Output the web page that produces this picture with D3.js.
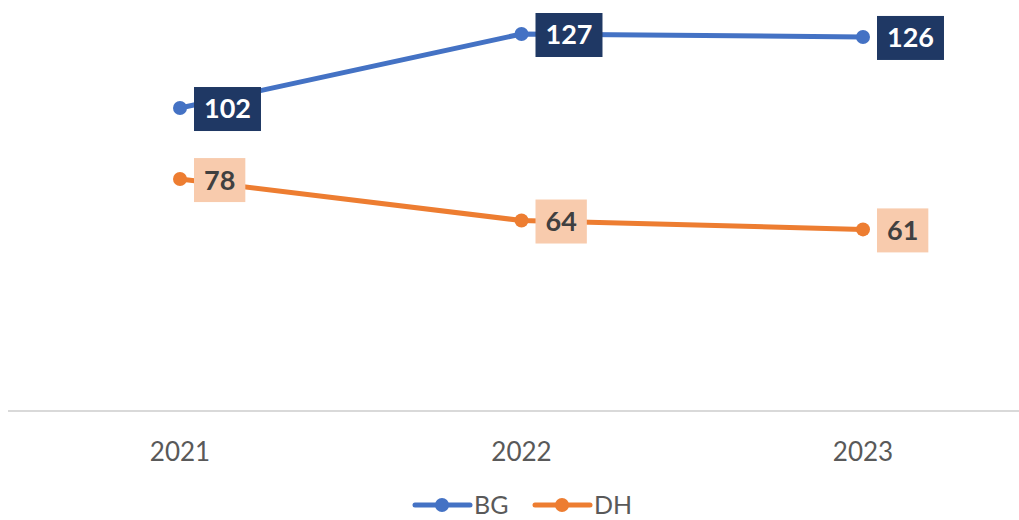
<!DOCTYPE html>
<html>
<head>
<meta charset="utf-8">
<script src="https://cdn.jsdelivr.net/npm/d3@7"></script>
<style>
  body { margin: 0; background: #fff; }
  svg { display: block; font-family: "Lato", "DejaVu Sans", sans-serif; }
</style>
</head>
<body>
<div id="chart"></div>
<script>
const years = ["2021", "2022", "2023"];
const bgValues = [102, 127, 126];
const dhValues = [78, 64, 61];
const seriesNames = ["BG", "DH"];

const width = 1019, height = 520;

const svg = d3.select("#chart").append("svg")
    .attr("width", width)
    .attr("height", height);

const x = d3.scalePoint().domain(years).range([180, 863]);
const y = d3.scaleLinear().domain([0, 127]).range([410, 34]);

// baseline
svg.append("line")
    .attr("x1", 8).attr("x2", width)
    .attr("y1", y(0) + 1).attr("y2", y(0) + 1)
    .attr("stroke", "#d9d9d9").attr("stroke-width", 2);

// x tick labels
svg.selectAll(".tick-label").data(years).enter().append("text")
    .attr("class", "tick-label")
    .attr("x", d => x(d))
    .attr("y", 461)
    .attr("text-anchor", "middle")
    .attr("font-size", 26)
    .attr("fill", "#595959")
    .text(d => d);

const series = [
    {name: seriesNames[0], values: bgValues, color: "#4472C4", box: "#1F3864", txt: "#ffffff"},
    {name: seriesNames[1], values: dhValues, color: "#ED7D31", box: "#F8CBAD", txt: "#404040"}
];

const line = d3.line().x(d => x(d.year)).y(d => y(d.value));

series.forEach(s => {
    const pts = years.map((yr, i) => ({year: yr, value: s.values[i]}));

    svg.append("path")
        .datum(pts)
        .attr("d", line)
        .attr("fill", "none")
        .attr("stroke", s.color)
        .attr("stroke-width", 5)
        .attr("stroke-linecap", "round");

    svg.selectAll(null).data(pts).enter().append("circle")
        .attr("cx", d => x(d.year))
        .attr("cy", d => y(d.value))
        .attr("r", 7)
        .attr("fill", s.color);

    // data labels with box
    pts.forEach(d => {
        const g = svg.append("g");
        const rect = g.append("rect");
        const t = g.append("text")
            .attr("x", x(d.year) + 14 + 10)
            .attr("y", y(d.value) + 1)
            .attr("dy", "0.35em")
            .attr("font-size", 27)
            .attr("font-weight", "bold")
            .attr("fill", s.txt)
            .text(d.value);
        const bb = t.node().getBBox();
        rect.attr("x", x(d.year) + 14)
            .attr("y", y(d.value) + 1 - 22)
            .attr("width", bb.width + 20)
            .attr("height", 44)
            .attr("fill", s.box);
    });
});

// legend
const legend = svg.append("g");
const legendX = [415, 535];
const legendY = 505;
series.forEach((s, i) => {
    const lx = legendX[i];
    legend.append("line")
        .attr("x1", lx).attr("x2", lx + 55)
        .attr("y1", legendY).attr("y2", legendY)
        .attr("stroke", s.color).attr("stroke-width", 5)
        .attr("stroke-linecap", "round");
    legend.append("circle")
        .attr("cx", lx + 27).attr("cy", legendY).attr("r", 7)
        .attr("fill", s.color);
    legend.append("text")
        .attr("x", lx + 59)
        .attr("y", legendY)
        .attr("dy", "0.35em")
        .attr("font-size", 25)
        .attr("fill", "#595959")
        .text(s.name);
});
</script>
</body>
</html>
